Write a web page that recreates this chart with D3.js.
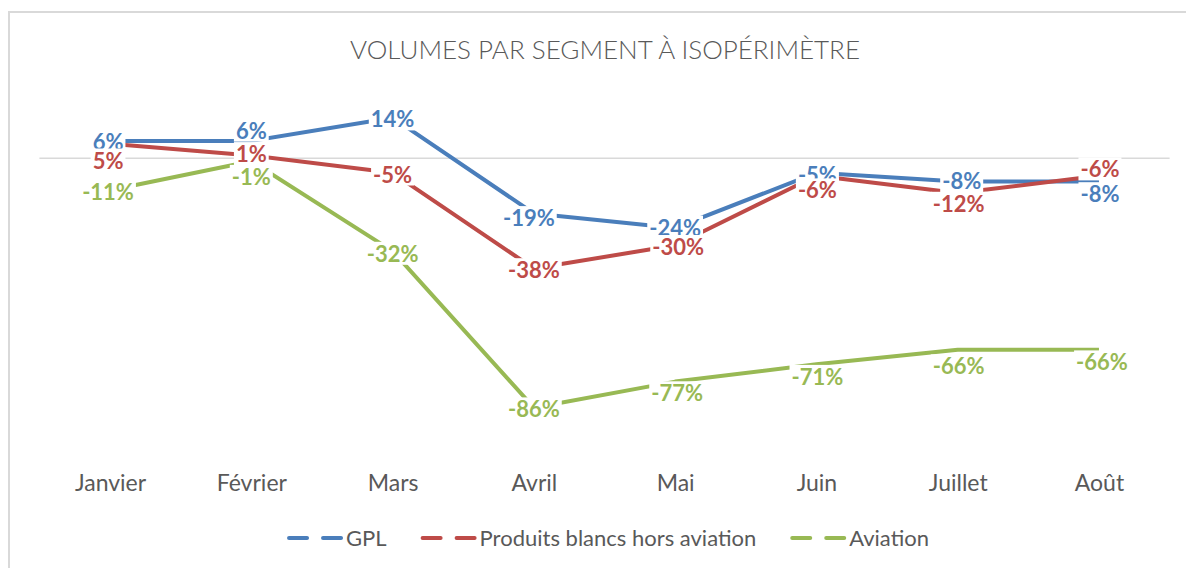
<!DOCTYPE html>
<html><head><meta charset="utf-8">
<script src="https://cdn.jsdelivr.net/npm/d3@7"></script>
<style>
html,body{margin:0;padding:0;background:#fff;}
svg{display:block;}
text{font-family:Lato,"Open Sans",sans-serif;}
</style></head>
<body>
<svg id="chart" width="1186" height="568"></svg>
<script>
// ---- data ----
const months = ["Janvier","Février","Mars","Avril","Mai","Juin","Juillet","Août"];
const gpl = [6, 6, 14, -19, -24, -5, -8, -8];
const produitsBlancs = [5, 1, -5, -38, -30, -6, -12, -6];
const aviation = [-11, -1, -32, -86, -77, -71, -66, -66];
const seriesNames = ["GPL", "Produits blancs hors aviation", "Aviation"];
const yDomain = [-100, 20];

// ---- layout / style (not data) ----
const colors = ["#4A7EBB", "#BE4B48", "#98B954"];
const labelDy = [
  [1, -10, 2, 5, 0, 2, 0, 13],
  [17, -1, 2, 2, 2, 15, 11, -6],
  [2, 16, 3, 2, 12, 13, 17, 13]
];
const labelDx = [
  [-2, 0, 0, -5, 0, 1, 4, 1],
  [-2, 0, 0, 0, 3, 1, 1, 1],
  [-2, 0, 0, 0, 2, 1, 1, 3]
];

const svg = d3.select("#chart");
const W = 1186, H = 568;

// chart border
svg.append("rect").attr("x", 9).attr("y", 12).attr("width", W + 20).attr("height", H + 20)
  .attr("fill", "#fff").attr("stroke", "#D9D9D9").attr("stroke-width", 2);

const x = d3.scalePoint().domain(months).range([39.4, 1169.6]).padding(0.5);
const y = d3.scaleLinear().domain(yDomain).range([448.3, 100.3]);

// title
svg.append("text").attr("x", 605).attr("y", 59).attr("text-anchor", "middle")
  .attr("font-size", 26).attr("font-weight", 300).attr("fill", "#595959")
  .text("VOLUMES PAR SEGMENT À ISOPÉRIMÈTRE");

// zero axis line
svg.append("line").attr("x1", 39.4).attr("x2", 1169.6)
  .attr("y1", y(0)).attr("y2", y(0)).attr("stroke", "#D9D9D9").attr("stroke-width", 1.5);

// category axis labels
const xAxis = d3.axisBottom(x).tickSize(0).tickPadding(0);
const gx = svg.append("g").attr("transform", "translate(0,476)").call(xAxis);
gx.select(".domain").remove();
gx.selectAll("text").attr("font-size", 23).attr("fill", "#595959")
  .attr("font-family", "Lato, 'Open Sans', sans-serif").attr("dy", "0.35em").attr("y", 7);

const allSeries = [gpl, produitsBlancs, aviation];
const line = d3.line().x((d, i) => x(months[i])).y(d => y(d));

allSeries.forEach((s, k) => {
  svg.append("path").datum(s).attr("d", line).attr("fill", "none")
    .attr("stroke", colors[k]).attr("stroke-width", 4).attr("stroke-linejoin", "round");
});

// data labels with white background
allSeries.forEach((s, k) => {
  const g = svg.append("g");
  s.forEach((v, i) => {
    const lg = g.append("g");
    const t = lg.append("text")
      .attr("x", x(months[i]) + labelDx[k][i]).attr("y", y(v) + labelDy[k][i])
      .attr("dy", "0.35em").attr("text-anchor", "middle")
      .attr("font-size", 22).attr("font-weight", 700).attr("fill", colors[k])
      .text(String(v) + "%");
    const bb = t.node().getBBox();
    lg.insert("rect", "text").attr("x", bb.x - 2).attr("y", bb.y + 2)
      .attr("width", bb.width + 4).attr("height", bb.height - 4).attr("fill", "#fff");
  });
});

// legend
const legend = svg.append("g").attr("transform", "translate(0,538)");
const items = [];
seriesNames.forEach((name, k) => {
  const g = legend.append("g");
  g.append("line").attr("x1", 2).attr("x2", 54).attr("y1", 0).attr("y2", 0)
    .attr("stroke", colors[k]).attr("stroke-width", 4).attr("stroke-linecap", "round")
    .attr("stroke-dasharray", "18 16");
  const t = g.append("text").attr("x", 59).attr("y", 0).attr("dy", "0.35em")
    .attr("font-size", 22).attr("fill", "#595959").text(name);
  const w = 59 + t.node().getComputedTextLength();
  items.push({g, w});
});
const gap = 34;
const total = d3.sum(items, d => d.w) + gap * (items.length - 1);
let start = 608 - total / 2;
items.forEach(it => { it.g.attr("transform", `translate(${start},0)`); start += it.w + gap; });
</script>
</body></html>
